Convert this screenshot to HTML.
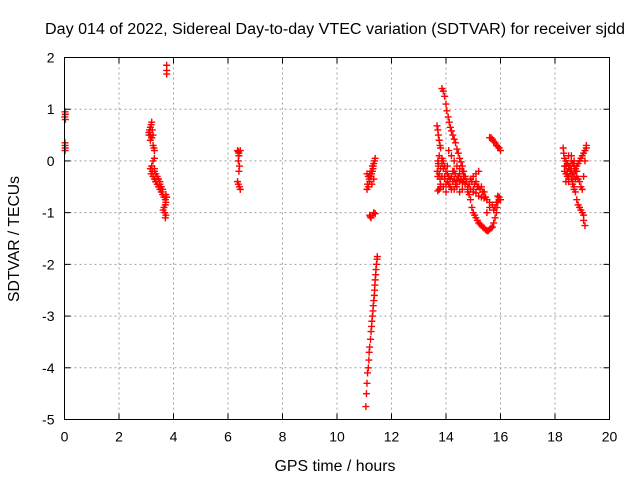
<!DOCTYPE html>
<html><head><meta charset="utf-8"><style>
html,body{margin:0;padding:0;background:#fff;}
svg{display:block;font-family:"Liberation Sans",sans-serif;}
</style></head><body>
<svg id="chart" width="640" height="480" viewBox="0 0 640 480" xmlns="http://www.w3.org/2000/svg">
<text x="335" y="34" font-size="15.5" text-anchor="middle" textLength="580" lengthAdjust="spacingAndGlyphs">Day 014 of 2022, Sidereal Day-to-day VTEC variation (SDTVAR) for receiver sjdd</text>
<text x="335" y="471" font-size="15.5" text-anchor="middle" textLength="121" lengthAdjust="spacingAndGlyphs">GPS time / hours</text>
<text x="0" y="0" font-size="15.5" text-anchor="middle" textLength="126" lengthAdjust="spacingAndGlyphs" transform="translate(19,239) rotate(-90)">SDTVAR / TECUs</text>
<g id="grid"></g>
<g id="marks"></g>
<rect x="64.5" y="57.5" width="545" height="362" fill="none" stroke="#000" stroke-width="1"/>
<g id="ticks"></g>
</svg>
<script>
const xTicks=[0,2,4,6,8,10,12,14,16,18,20];
const yTicks=[2,1,0,-1,-2,-3,-4,-5];
const seg0T=[0.02,0.03,0.01,0.03,0.02,0.02,0.03,0.02];
const seg0V=[0.95,0.9,0.85,0.8,0.35,0.3,0.25,0.2];
const seg1T=[3.75,3.75,3.75,3.1,3.1,3.12,3.15,3.18,3.2,3.22,3.25,3.2,3.15,3.1,3.15,3.2,3.25,3.3,3.28,3.3,3.25,3.2,3.22,3.18,3.25,3.3,3.35,3.4,3.45,3.5,3.55,3.6,3.65,3.7,3.72,3.75,3.7,3.65,3.62,3.68,3.72,3.7,3.72,3.3,3.35,3.4,3.5,3.55,3.3,3.45,3.6,3.15,3.35,3.5];
const seg1V=[1.85,1.75,1.68,0.55,0.5,0.6,0.65,0.7,0.75,0.6,0.5,0.45,0.4,0.55,0.5,0.45,0.3,0.2,0.25,0.05,0,-0.1,-0.2,-0.25,-0.3,-0.35,-0.4,-0.45,-0.5,-0.55,-0.6,-0.65,-0.7,-0.75,-0.8,-0.7,-0.85,-0.9,-0.95,-1.0,-1.05,-1.1,-0.65,-0.15,-0.25,-0.3,-0.4,-0.5,-0.2,-0.35,-0.55,-0.15,-0.4,-0.45];
const seg2T=[6.35,6.4,6.45,6.4,6.38,6.42,6.4,6.35,6.38,6.42,6.45,6.38];
const seg2V=[0.2,0.15,0.2,0.1,0.0,-0.1,-0.2,-0.4,-0.45,-0.5,-0.55,0.18];
const seg3T=[11.1,11.12,11.15,11.2,11.22,11.25,11.3,11.32,11.35,11.38,11.4,11.2,11.25,11.3,11.35,11.28,11.15,11.1,11.2,11.25,11.3,11.35,11.4,11.22,11.18,11.27,11.33,11.48,11.47,11.45,11.43,11.42,11.4,11.39,11.38,11.37,11.35,11.33,11.32,11.3,11.28,11.27,11.25,11.23,11.2,11.18,11.17,11.15,11.12,11.1,11.08,11.06];
const seg3V=[-0.55,-0.45,-0.5,-0.4,-0.3,-0.2,-0.1,-0.15,-0.05,0.0,0.05,-0.25,-0.3,-0.2,-0.35,-0.45,-0.3,-0.25,-1.05,-1.1,-1.05,-1.0,-1.02,-1.08,-0.35,-0.25,-0.1,-1.85,-1.9,-2.0,-2.1,-2.2,-2.3,-2.4,-2.5,-2.6,-2.7,-2.8,-2.9,-3.0,-3.1,-3.2,-3.3,-3.45,-3.6,-3.7,-3.85,-4.0,-4.1,-4.3,-4.5,-4.75];
const seg4T=[13.85,13.9,13.95,14.0,14.03,14.08,14.12,14.16,14.2,14.25,14.3,14.35,14.4,14.45,14.5,14.55,14.6,14.65,14.7,14.75,14.8,14.85,14.9,14.95,15.0,15.05,15.1,15.15,15.2,15.25,15.3,15.35,15.4,15.45,15.5,15.55,15.6,15.65,15.7,15.75,15.8,15.85,15.87,15.9,15.95,16.0,15.95,15.9,15.85,15.8,15.75,
13.67,13.7,13.72,13.75,13.78,13.8,13.75,13.7,13.72,13.68,13.7,13.75,13.8,13.85,13.9,13.95,14.0,14.05,14.1,14.15,13.8,13.9,14.0,13.75,13.7,13.8,13.72,13.78,13.85,13.9,13.95,14.05,13.85,13.95,
14.2,14.3,14.4,14.5,14.6,14.7,14.8,14.9,15.0,15.1,15.2,15.3,15.4,15.5,15.2,15.1,15.0,14.9,14.3,14.5,14.7,14.9,15.1,15.3,14.25,14.35,14.45,14.55,14.65,14.75,14.85,14.95,15.05,15.15,15.25,15.35,15.45,14.6,14.8,15.0,15.2,15.4,15.6,15.7,15.6,15.5,
14.1,14.2,14.3,14.4,14.5,14.6,14.4,14.2,14.0,14.1,14.3,14.5,14.15,14.25,14.35,14.45,14.55,14.65,14.05,14.15,
15.6,15.65,15.7,15.75,15.8,15.85,15.9,15.95,16.0];
const seg4V=[1.4,1.35,1.25,1.1,0.97,0.85,0.75,0.65,0.58,0.5,0.42,0.35,0.23,0.15,0.05,-0.02,-0.1,-0.2,-0.3,-0.4,-0.55,-0.65,-0.75,-0.9,-1.0,-1.05,-1.1,-1.15,-1.2,-1.22,-1.25,-1.28,-1.3,-1.33,-1.35,-1.35,-1.32,-1.3,-1.28,-1.2,-1.1,-1.0,-0.9,-0.8,-0.75,-0.75,-0.7,-0.68,-0.8,-0.9,-0.95,
0.68,0.6,0.5,0.4,0.3,0.25,0.1,0.0,-0.1,-0.2,-0.3,-0.25,-0.15,-0.05,0.0,-0.1,-0.2,-0.25,-0.3,-0.35,-0.45,-0.5,-0.45,-0.55,-0.58,-0.5,-0.05,-0.35,-0.3,-0.15,-0.35,-0.1,0.05,-0.3,
-0.3,-0.35,-0.38,-0.4,-0.42,-0.45,-0.5,-0.55,-0.6,-0.62,-0.68,-0.7,-0.72,-0.75,-0.2,-0.25,-0.3,-0.35,-0.2,-0.25,-0.3,-0.35,-0.4,-0.5,-0.4,-0.45,-0.3,-0.35,-0.35,-0.4,-0.45,-0.4,-0.45,-0.5,-0.55,-0.6,-0.7,-0.55,-0.6,-0.55,-0.5,-0.6,-0.8,-0.85,-0.9,-1.0,
0.2,0.1,0.0,-0.1,-0.15,-0.2,-0.5,-0.55,-0.6,-0.45,-0.55,-0.6,-0.35,-0.2,-0.25,-0.3,-0.35,-0.3,-0.4,-0.5,
0.45,0.45,0.42,0.38,0.35,0.3,0.28,0.25,0.2];
const seg5T=[18.3,18.32,18.35,18.4,18.45,18.5,18.55,18.6,18.62,18.65,18.7,18.75,18.8,18.85,18.9,18.95,19.0,19.05,19.05,19.1,19.15,19.15,19.1,19.05,19.0,18.95,18.9,18.85,18.8,18.75,18.7,18.35,18.4,18.45,18.5,18.55,18.6,18.65,18.7,18.75,18.8,18.85,18.9,18.95,19.0,19.05,19.1,18.6,18.65,18.7,18.35,18.4,18.45,18.5,18.55,18.6,18.65,18.7,18.75,18.5,18.6,18.7,18.8,18.4,18.5];
const seg5V=[0.25,0.15,0.05,0.0,-0.05,-0.1,-0.15,-0.2,-0.3,-0.4,-0.5,-0.6,-0.75,-0.85,-0.9,-0.95,-1.0,-1.05,-1.15,-1.25,0.3,0.25,0.2,0.15,0.1,0.05,0.0,-0.05,-0.1,-0.15,-0.2,-0.2,-0.25,-0.3,-0.3,-0.1,0.0,-0.05,-0.1,-0.2,-0.3,-0.35,-0.4,-0.5,-0.55,-0.3,0.0,-0.35,-0.45,-0.55,-0.1,-0.1,-0.2,-0.15,-0.25,-0.15,-0.25,-0.3,-0.35,0.1,0.1,0.0,-0.2,-0.4,-0.4];
const X0=64.5,X1=609.5,Y0=419.5,Y1=57.5;
const xs=t=>X0+(t-0)/(20-0)*(X1-X0);
const ys=v=>Y0-(v-(-5))/(2-(-5))*(Y0-Y1);
const NS='http://www.w3.org/2000/svg';
const grid=document.getElementById('grid'),ticks=document.getElementById('ticks'),marks=document.getElementById('marks');
function mk(tag,attrs,parent){const e=document.createElementNS(NS,tag);for(const k in attrs)e.setAttribute(k,attrs[k]);parent.appendChild(e);return e;}
xTicks.forEach(t=>{const x=xs(t);
 if(t>0&&t<20){const g=mk('line',{x1:x,x2:x,y1:Y0,y2:Y1,stroke:'#a0a0a0','stroke-dasharray':'2,3'},grid);
 
 }
 mk('line',{x1:x,x2:x,y1:Y0,y2:Y0-6,stroke:'#000'},ticks);mk('line',{x1:x,x2:x,y1:Y1,y2:Y1+6,stroke:'#000'},ticks);
 const l=mk('text',{x:x,y:Y0+22,'font-size':14,'text-anchor':'middle'},ticks);l.textContent=t;
 
 });
yTicks.forEach(v=>{const y=ys(v);
 if(v<2&&v>-5){const g=mk('line',{x1:X0,x2:X1,y1:y,y2:y,stroke:'#a0a0a0','stroke-dasharray':'2,3'},grid);
 
 }
 mk('line',{x1:X0,x2:X0+6,y1:y,y2:y,stroke:'#000'},ticks);mk('line',{x1:X1,x2:X1-6,y1:y,y2:y,stroke:'#000'},ticks);
 const l=mk('text',{x:X0-10,y:y+5,'font-size':14,'text-anchor':'end'},ticks);l.textContent=v;
 
 });
const segs=[[seg0T,seg0V],[seg1T,seg1V],[seg2T,seg2V],[seg3T,seg3V],[seg4T,seg4V],[seg5T,seg5V]];
segs.forEach(([T,V])=>{T.forEach((t,i)=>{const x=xs(t),y=ys(V[i]);
 const p=mk('path',{d:`M${x-3.5},${y}h7M${x},${y-3.5}v7`,stroke:'#f00','stroke-width':1.4,fill:'none'},marks);
 
 });});
</script>
</body></html>
